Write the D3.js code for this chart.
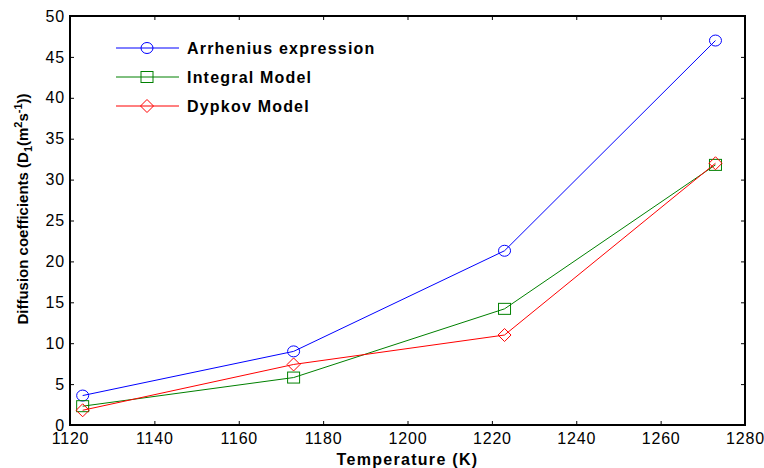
<!DOCTYPE html>
<html>
<head>
<meta charset="utf-8">
<script src="https://cdn.jsdelivr.net/npm/d3@7"></script>
<style>
body { margin: 0; background: #fff; }
text { font-family: "Liberation Sans", Arial, sans-serif; }
</style>
</head>
<body>
<div class="chart"></div>
<script>
const temps = [1123, 1173, 1223, 1273];
const arrhenius = [3.6, 9.0, 21.3, 47.0];
const integral = [2.3, 5.8, 14.2, 31.8];
const dypkov = [1.8, 7.4, 11.0, 32.0];
const xTicks = [1120, 1140, 1160, 1180, 1200, 1220, 1240, 1260, 1280];
const yTicks = [0, 5, 10, 15, 20, 25, 30, 35, 40, 45, 50];

const series = [
  {name: 'Arrhenius expression', values: arrhenius, color: '#0000ff', marker: 'circle'},
  {name: 'Integral Model', values: integral, color: '#008000', marker: 'square'},
  {name: 'Dypkov Model', values: dypkov, color: '#ff0000', marker: 'diamond'}
];

const W = 764, H = 468;
const margin = {top: 16, right: 19, bottom: 43, left: 70};
const width = W - margin.left - margin.right,
  height = H - margin.top - margin.bottom;

const svg = d3.select('.chart').append('svg')
  .attr('width', W)
  .attr('height', H);

const g = svg.append('g')
  .attr('transform', 'translate(' + margin.left + ',' + margin.top + ')');

const xScale = d3.scaleLinear().domain([1120, 1280]).range([0, width]);
const yScale = d3.scaleLinear().domain([0, 50]).range([height, 0]);

// axes with inward ticks
function styleAxis(sel) {
  sel.select('.domain').remove();
  sel.selectAll('line').attr('stroke', '#000').attr('stroke-width', 1);
  sel.selectAll('text').attr('font-size', 16).attr('letter-spacing', 0.8).attr('fill', '#000');
}

g.append('g')
  .attr('transform', 'translate(0,' + height + ')')
  .call(d3.axisBottom(xScale).tickValues(xTicks).tickFormat(d3.format('d')).tickSizeInner(-4).tickSizeOuter(0).tickPadding(8))
  .call(styleAxis);

g.append('g')
  .call(d3.axisLeft(yScale).tickValues(yTicks).tickFormat(d3.format('d')).tickSizeInner(-4).tickSizeOuter(0).tickPadding(5))
  .call(styleAxis);

g.append('g')
  .call(d3.axisTop(xScale).tickValues(xTicks).tickSizeInner(-4).tickSizeOuter(0).tickFormat(''))
  .call(styleAxis);

g.append('g')
  .attr('transform', 'translate(' + width + ',0)')
  .call(d3.axisRight(yScale).tickValues(yTicks).tickSizeInner(-4).tickSizeOuter(0).tickFormat(''))
  .call(styleAxis);

// box
g.append('rect')
  .attr('width', width)
  .attr('height', height)
  .attr('fill', 'none')
  .attr('stroke', '#000')
  .attr('stroke-width', 2);

const line = d3.line()
  .x((d, i) => xScale(temps[i]))
  .y(d => yScale(d));

function drawMarker(sel, type, x, y, color) {
  if (type == 'circle') {
    sel.append('ellipse').attr('cx', x).attr('cy', y).attr('rx', 6).attr('ry', 5.5)
      .attr('fill', 'none').attr('stroke', color);
  } else if (type == 'square') {
    sel.append('rect').attr('x', x - 6).attr('y', y - 5.5).attr('width', 12).attr('height', 11)
      .attr('fill', 'none').attr('stroke', color);
  } else {
    const s = 6.5;
    sel.append('path')
      .attr('d', 'M' + x + ',' + (y - s) + 'L' + (x + s) + ',' + y + 'L' + x + ',' + (y + s) + 'L' + (x - s) + ',' + y + 'Z')
      .attr('fill', 'none').attr('stroke', color);
  }
}

series.forEach(s => {
  g.append('path')
    .datum(s.values)
    .attr('d', line)
    .attr('fill', 'none')
    .attr('stroke', s.color)
    .attr('stroke-width', 1);
  s.values.forEach((v, i) => {
    drawMarker(g, s.marker, xScale(temps[i]), yScale(v), s.color);
  });
});

// legend
const legend = svg.append('g');
series.forEach((s, i) => {
  const y = 48 + i * 29;
  legend.append('line')
    .attr('x1', 116).attr('x2', 179)
    .attr('y1', y).attr('y2', y)
    .attr('stroke', s.color);
  drawMarker(legend, s.marker, 147, y, s.color);
  legend.append('text')
    .attr('x', 187).attr('y', y + 6)
    .attr('font-size', 16)
    .attr('letter-spacing', 1.2)
    .attr('font-weight', 'bold')
    .text(s.name);
});

// axis titles
svg.append('text')
  .attr('x', margin.left + width / 2)
  .attr('y', 465)
  .attr('text-anchor', 'middle')
  .attr('font-size', 16)
  .attr('letter-spacing', 1.3)
  .attr('font-weight', 'bold')
  .text('Temperature (K)');

const yt = svg.append('text')
  .attr('transform', 'translate(28,209) rotate(-90)')
  .attr('text-anchor', 'middle')
  .attr('font-size', 15)
  .attr('font-weight', 'bold');
yt.append('tspan').text('Diffusion coefficients (D');
yt.append('tspan').attr('font-size', 11).attr('dy', 4).text('1');
yt.append('tspan').attr('dy', -4).text('(m');
yt.append('tspan').attr('font-size', 11).attr('dy', -6).text('2');
yt.append('tspan').attr('dy', 6).text('s');
yt.append('tspan').attr('font-size', 11).attr('dy', -6).text('-1');
yt.append('tspan').attr('dy', 6).text('))');
</script>
</body>
</html>
